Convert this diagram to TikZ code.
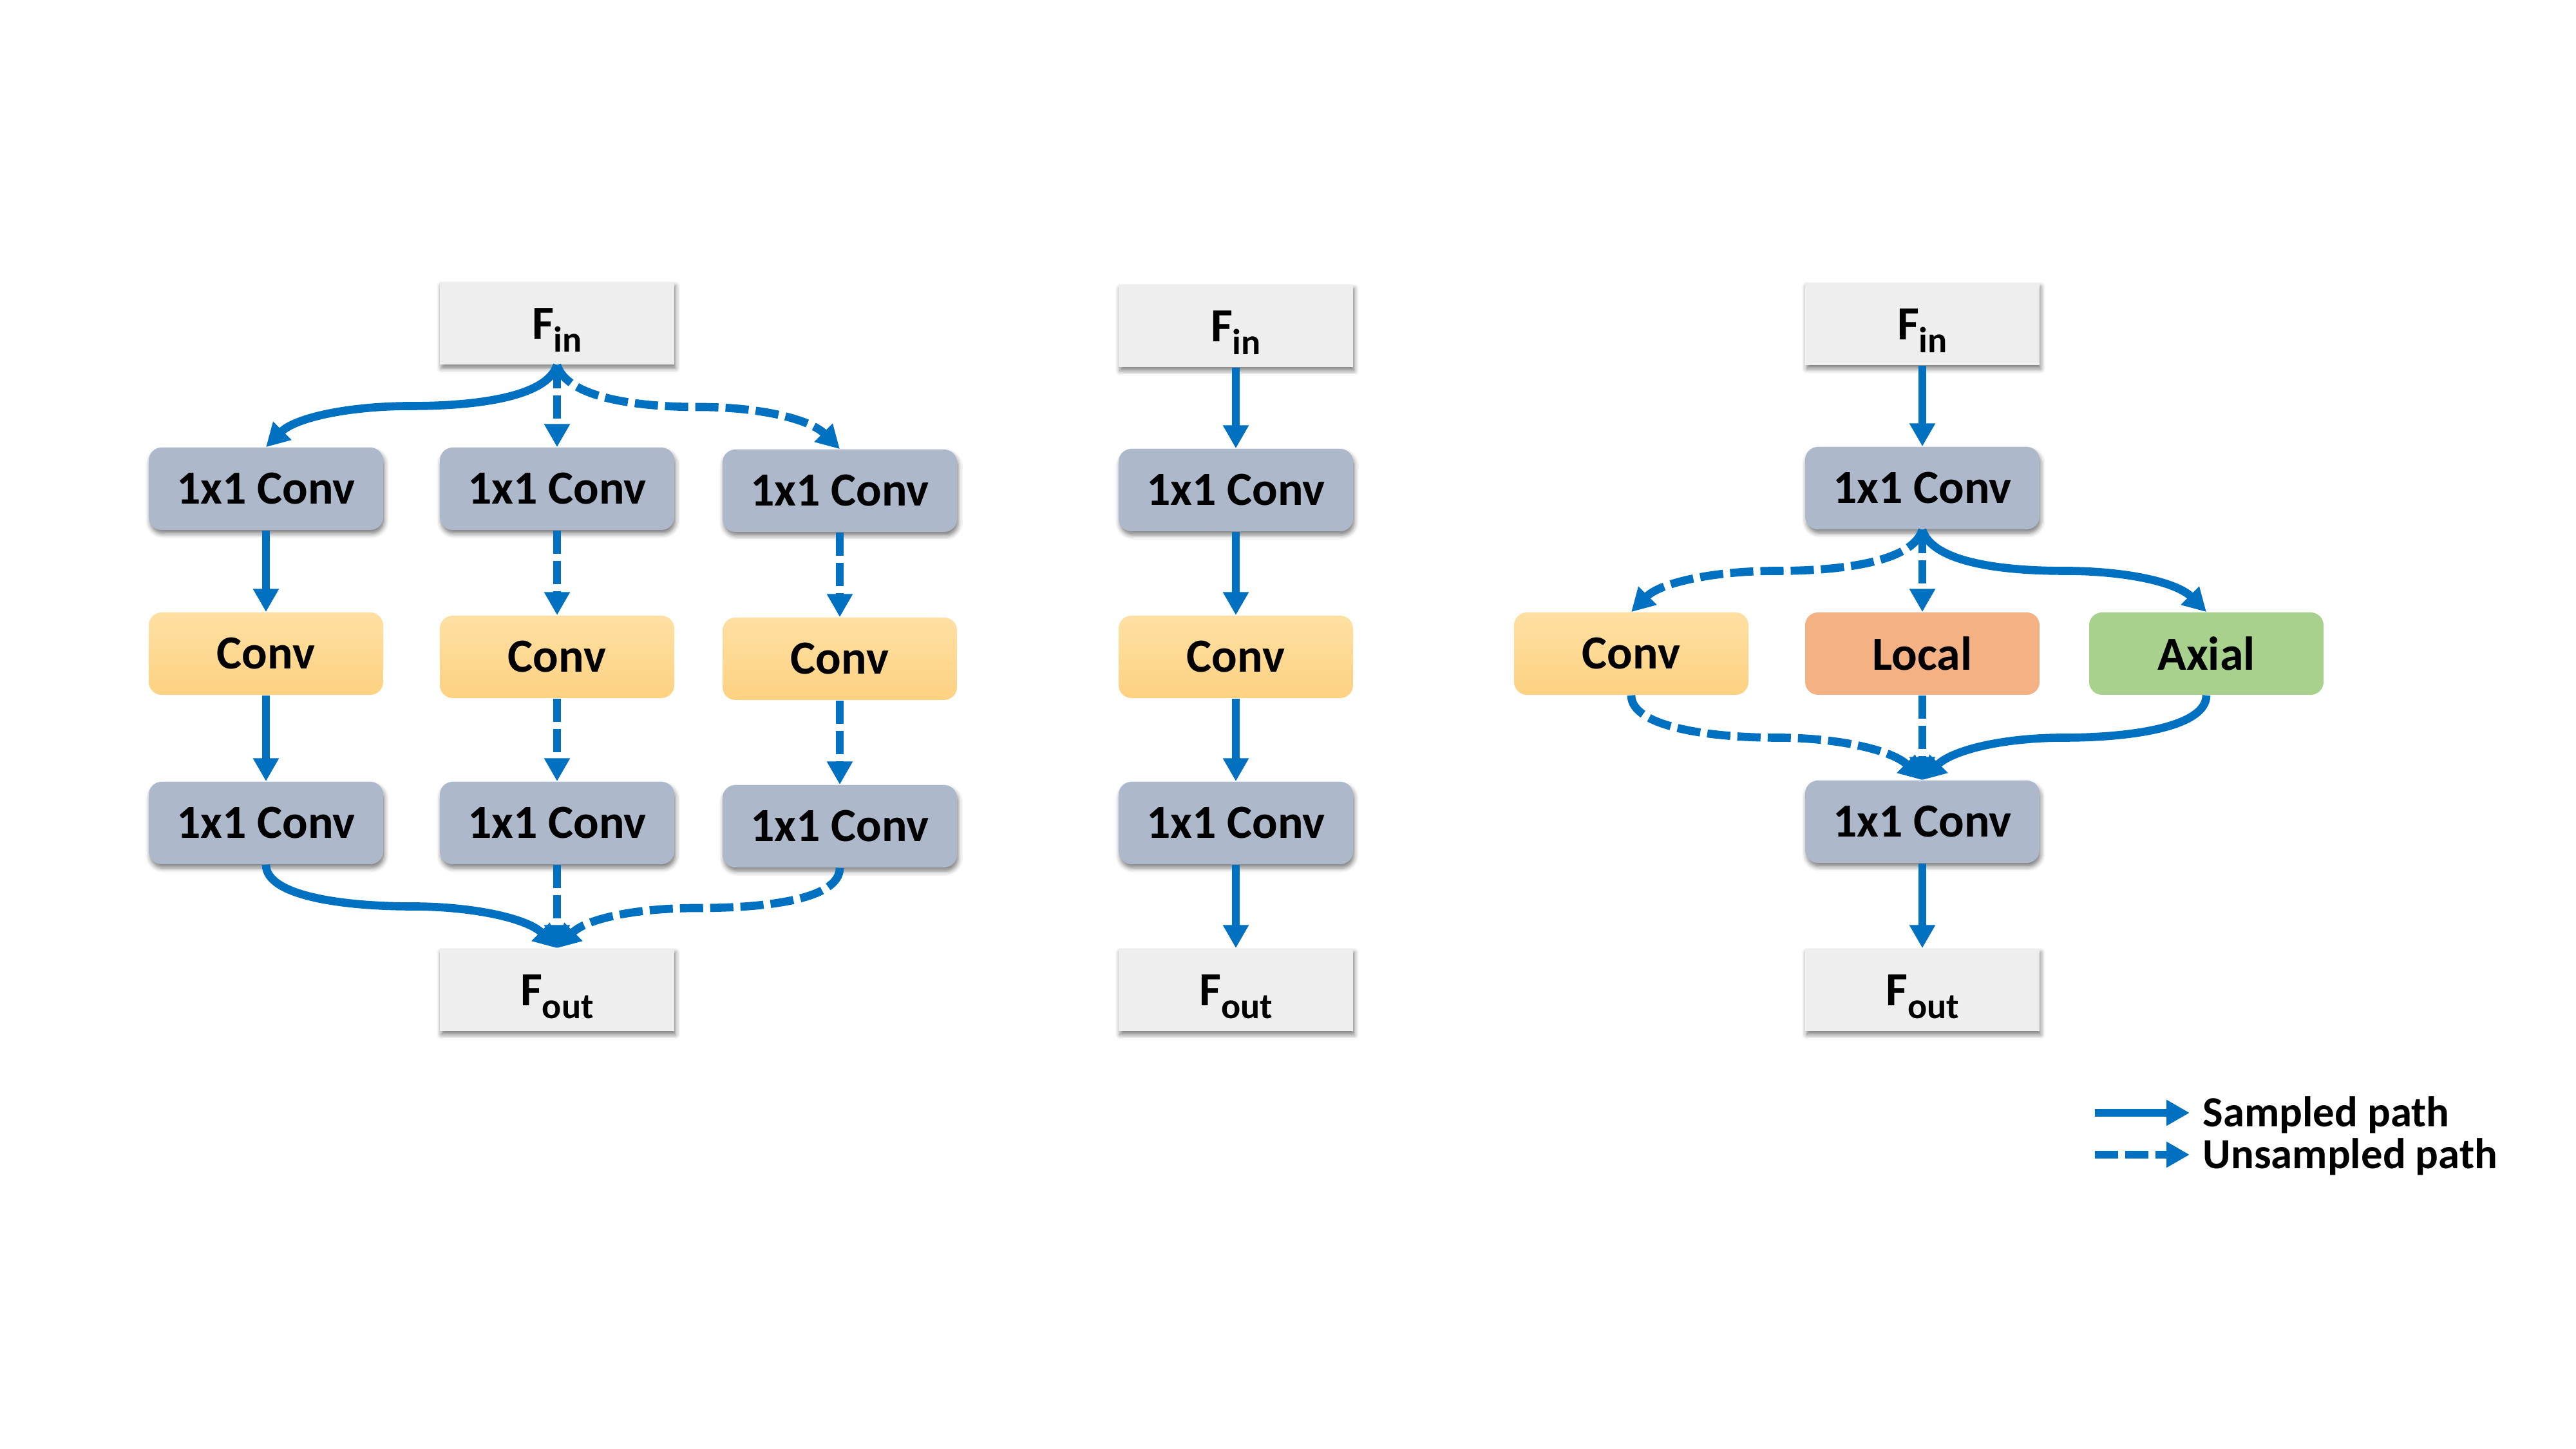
\documentclass[tikz,border=0pt]{standalone}
\usepackage{fontspec}
\setmainfont{Carlito}
\usetikzlibrary{arrows.meta,shadows.blur,calc}
\definecolor{arrowblue}{HTML}{0070C0}
\definecolor{finfill}{HTML}{EEEEEE}
\definecolor{convgray}{HTML}{ADB9CA}
\definecolor{convtop}{HTML}{FFE0A3}
\definecolor{convbot}{HTML}{FDD282}
\definecolor{localfill}{HTML}{F4B183}
\definecolor{axialfill}{HTML}{A9D18E}
\newcommand{\Fsub}[1]{\raisebox{-0.25cm}[0pt][0pt]{F\raisebox{-5.5pt}{\fontsize{16}{16}\selectfont #1}}}
\begin{document}
\begin{tikzpicture}[
  base/.style={minimum width=3.64cm, minimum height=1.28cm, inner sep=0pt,
    font=\fontsize{21}{25}\selectfont\bfseries, text=black},
  shad/.style={blur shadow={shadow xshift=0.02cm, shadow yshift=-0.06cm,
    shadow blur radius=0.07cm, shadow opacity=50}},
  fbox/.style={base, shad, fill=finfill},
  onebox/.style={base, shad, fill=convgray, rounded corners=0.2cm},
  convbox/.style={base, rounded corners=0.2cm, top color=convtop, bottom color=convbot},
  localbox/.style={base, rounded corners=0.2cm, fill=localfill},
  axialbox/.style={base, rounded corners=0.2cm, fill=axialfill},
  sampled/.style={draw=arrowblue, line width=3.6pt, -{Triangle[length=0.36cm,width=0.38cm]}},
  unsampled/.style={sampled, dash pattern=on 0.36cm off 0.11cm},
  legtext/.style={anchor=base west, inner sep=0pt, font=\fontsize{19}{22}\selectfont\bfseries},
]
\useasboundingbox (0,0) rectangle (40,22.5);

% ---------- left group ----------
\node[fbox] (fa) at (8.65,17.48) {\Fsub{in}};
\node[onebox] (a1) at (4.13,14.91) {1x1 Conv};
\node[onebox] (b1) at (8.65,14.91) {1x1 Conv};
\node[onebox] (c1) at (13.04,14.88) {1x1 Conv};
\node[convbox] (a2) at (4.13,12.35) {Conv};
\node[convbox] (b2) at (8.65,12.30) {Conv};
\node[convbox] (c2) at (13.04,12.27) {Conv};
\node[onebox] (a3) at (4.13,9.72) {1x1 Conv};
\node[onebox] (b3) at (8.65,9.72) {1x1 Conv};
\node[onebox] (c3) at (13.04,9.67) {1x1 Conv};
\node[fbox] (foa) at (8.65,7.13) {\Fsub{out}};

\coordinate (mla) at ($(fa.south)!0.5!(a1.north)$);
\coordinate (mlc) at ($(fa.south)!0.5!(c1.north)$);
\coordinate (mba) at ($(a3.south)!0.5!(foa.north)$);
\coordinate (mbc) at ($(c3.south)!0.5!(foa.north)$);

\draw[sampled] (fa.south) .. controls +(-0.15,-0.5) and +(1.0,0) .. (mla)
  .. controls +(-1.0,0) and +(0.45,0.45) .. (a1.north);
\draw[unsampled] (fa.south) -- (b1.north);
\draw[unsampled] (fa.south) .. controls +(0.15,-0.5) and +(-1.0,0) .. (mlc)
  .. controls +(1.0,0) and +(-0.45,0.45) .. (c1.north);
\draw[sampled] (a1.south) -- (a2.north);
\draw[unsampled] (b1.south) -- (b2.north);
\draw[unsampled] (c1.south) -- (c2.north);
\draw[sampled] (a2.south) -- (a3.north);
\draw[unsampled] (b2.south) -- (b3.north);
\draw[unsampled] (c2.south) -- (c3.north);
\draw[sampled] (a3.south) .. controls +(0,-0.5) and +(-1.0,0) .. (mba)
  .. controls +(1.0,0) and +(-0.45,0.45) .. (foa.north);
\draw[unsampled] (b3.south) -- (foa.north);
\draw[unsampled] (c3.south) .. controls +(0,-0.5) and +(1.0,0) .. (mbc)
  .. controls +(-1.0,0) and +(0.45,0.45) .. (foa.north);

% ---------- middle group ----------
\node[fbox] (fm) at (19.19,17.44) {\Fsub{in}};
\node[onebox] (m1) at (19.19,14.89) {1x1 Conv};
\node[convbox] (m2) at (19.19,12.30) {Conv};
\node[onebox] (m3) at (19.19,9.72) {1x1 Conv};
\node[fbox] (fom) at (19.19,7.13) {\Fsub{out}};
\draw[sampled] (fm.south) -- (m1.north);
\draw[sampled] (m1.south) -- (m2.north);
\draw[sampled] (m2.south) -- (m3.north);
\draw[sampled] (m3.south) -- (fom.north);

% ---------- right group ----------
\node[fbox] (fr) at (29.85,17.47) {\Fsub{in}};
\node[onebox] (r1) at (29.85,14.92) {1x1 Conv};
\node[convbox] (rc) at (25.33,12.35) {Conv};
\node[localbox] (rl) at (29.85,12.35) {Local};
\node[axialbox] (rx) at (34.26,12.35) {Axial};
\node[onebox] (r3) at (29.85,9.74) {1x1 Conv};
\node[fbox] (for) at (29.85,7.13) {\Fsub{out}};

\coordinate (mrc) at ($(r1.south)!0.5!(rc.north)$);
\coordinate (mrx) at ($(r1.south)!0.5!(rx.north)$);
\coordinate (nrc) at ($(rc.south)!0.5!(r3.north)$);
\coordinate (nrx) at ($(rx.south)!0.5!(r3.north)$);

\draw[sampled] (fr.south) -- (r1.north);
\draw[unsampled] (r1.south) .. controls +(-0.15,-0.5) and +(1.0,0) .. (mrc)
  .. controls +(-1.0,0) and +(0.45,0.45) .. (rc.north);
\draw[unsampled] (r1.south) -- (rl.north);
\draw[sampled] (r1.south) .. controls +(0.15,-0.5) and +(-1.0,0) .. (mrx)
  .. controls +(1.0,0) and +(-0.45,0.45) .. (rx.north);
\draw[unsampled] (rc.south) .. controls +(0,-0.5) and +(-1.0,0) .. (nrc)
  .. controls +(1.0,0) and +(-0.45,0.45) .. (r3.north);
\draw[unsampled] (rl.south) -- (r3.north);
\draw[sampled] (rx.south) .. controls +(0,-0.5) and +(1.0,0) .. (nrx)
  .. controls +(-1.0,0) and +(0.45,0.45) .. (r3.north);
\draw[sampled] (r3.south) -- (for.north);

% ---------- legend ----------
\coordinate (ls1) at (32.53,5.22);
\coordinate (le1) at (34.00,5.22);
\coordinate (ls2) at (32.53,4.57);
\coordinate (le2) at (34.00,4.57);
\draw[sampled] (ls1) -- (le1);
\draw[unsampled] (ls2) -- (le2);
\node[legtext] (lt1) at (34.20,5.00) {Sampled path};
\node[legtext] (lt2) at (34.20,4.35) {Unsampled path};
\end{tikzpicture}
\end{document}
